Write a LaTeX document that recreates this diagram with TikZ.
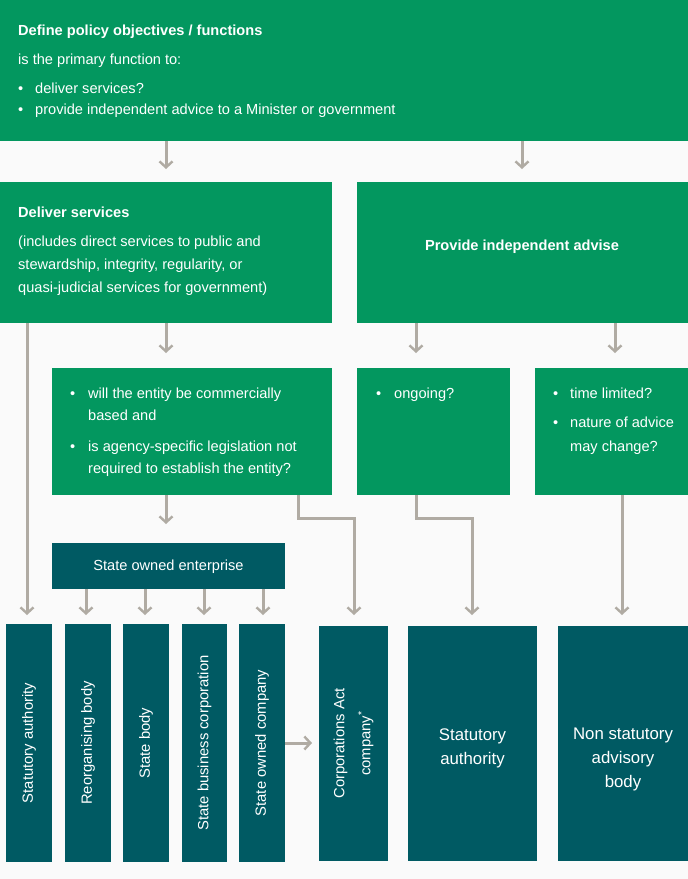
\documentclass[tikz,border=0pt]{standalone}
\usepackage{fontspec}
\setmainfont{Liberation Sans}
\usetikzlibrary{arrows.meta}
\definecolor{pgreen}{HTML}{03975F}
\definecolor{pteal}{HTML}{005A63}
\definecolor{pgray}{HTML}{B0ABA3}
\definecolor{pbg}{HTML}{FAFAFA}
\tikzset{
  gbox/.style={fill=pgreen, draw=none, anchor=north west, inner sep=0pt, outer sep=0pt},
  tbox/.style={fill=pteal, draw=none, anchor=north west, inner sep=0pt, outer sep=0pt},
  wtxt/.style={text=white, inner sep=0pt, anchor=base west, font=\fontsize{14.6}{17}\selectfont},
  wbold/.style={wtxt, font=\fontsize{14.6}{17}\selectfont\bfseries},
  vtxt/.style={text=white, inner sep=0pt, rotate=90, font=\fontsize{14.8}{17}\selectfont},
  btxt/.style={text=white, inner sep=0pt, align=center, font=\fontsize{16.8}{24}\selectfont},
  arr/.style={draw=pgray, line width=3pt, -{Straight Barb[length=6pt,width=13pt,line width=2.4pt]}},
  ln/.style={draw=pgray, line width=3pt}
}
\begin{document}
\begin{tikzpicture}[x=1pt,y=-1pt]
\fill[pbg] (0,0) rectangle (688,879);
\useasboundingbox (0,0) rectangle (688,879);

% boxes
\node[gbox, minimum width=688pt, minimum height=141pt] (top) at (0,0) {};
\node[gbox, minimum width=332pt, minimum height=141pt] (deliver) at (0,182) {};
\node[gbox, minimum width=331pt, minimum height=141pt] (advise) at (357,182) {};
\node[gbox, minimum width=280pt, minimum height=127pt] (comm) at (52,368) {};
\node[gbox, minimum width=153pt, minimum height=127pt] (ongoing) at (357,368) {};
\node[gbox, minimum width=153pt, minimum height=127pt] (timelim) at (535,368) {};
\node[tbox, minimum width=233pt, minimum height=46pt] (soe) at (52,543) {};

\node[tbox, minimum width=46pt, minimum height=238pt] (b1) at (6,624) {};
\node[tbox, minimum width=46pt, minimum height=238pt] (b2) at (65,624) {};
\node[tbox, minimum width=46pt, minimum height=238pt] (b3) at (123,624) {};
\node[tbox, minimum width=45pt, minimum height=238pt] (b4) at (182,624) {};
\node[tbox, minimum width=46pt, minimum height=238pt] (b5) at (239,624) {};
\node[tbox, minimum width=69pt, minimum height=235pt] (corp) at (319,626) {};
\node[tbox, minimum width=129pt, minimum height=235pt] (stat) at (408,626) {};
\node[tbox, minimum width=130pt, minimum height=235pt] (nonstat) at (558,626) {};

% texts: top
\node[wbold] (t1) at (18,35) {Define policy objectives / functions};
\node[wtxt] (t2) at (18,64) {is the primary function to:};
\node[wtxt] (t3) at (18,93) {•};
\node[wtxt] (t4) at (35,93) {deliver services?};
\node[wtxt] (t5) at (18,114) {•};
\node[wtxt] (t6) at (35,114) {provide independent advice to a Minister or government};

% deliver
\node[wbold] (d1) at (18,217) {Deliver services};
\node[wtxt] (d2) at (18,246) {(includes direct services to public and};
\node[wtxt] (d3) at (18,269) {stewardship, integrity, regularity, or};
\node[wtxt] (d4) at (18,292) {quasi-judicial services for government)};

% advise
\node[text=white, inner sep=0pt, font=\fontsize{14.6}{17}\selectfont\bfseries] (a1) at (522,247) {Provide independent advise};

% comm
\node[wtxt] (c0) at (70,398) {•};
\node[wtxt] (c1) at (88,398) {will the entity be commercially};
\node[wtxt] (c2) at (88,420) {based and};
\node[wtxt] (c3) at (70,451) {•};
\node[wtxt] (c4) at (88,451) {is agency-specific legislation not};
\node[wtxt] (c5) at (88,473) {required to establish the entity?};

% ongoing
\node[wtxt] (o0) at (376,398) {•};
\node[wtxt] (o1) at (394,398) {ongoing?};

% time limited
\node[wtxt] (m0) at (553,398) {•};
\node[wtxt] (m1) at (570,398) {time limited?};
\node[wtxt] (m2) at (553,427) {•};
\node[wtxt] (m3) at (570,427) {nature of advice};
\node[wtxt] (m4) at (570,451) {may change?};

% soe
\node[text=white, inner sep=0pt, font=\fontsize{14.6}{17}\selectfont] (s1) at ([yshift=-1pt]soe.center) {State owned enterprise};

% vertical texts
\node[vtxt] at (b1.center) {Statutory authority};
\node[vtxt] at (b2.center) {Reorganising body};
\node[vtxt] at (b3.center) {State body};
\node[vtxt] at (b4.center) {State business corporation};
\node[vtxt] at (b5.center) {State owned company};
\node[vtxt, align=center, font=\fontsize{14.8}{26}\selectfont] at (corp.center) {Corporations Act\\company\textsuperscript{*}};
\node[btxt] at ([yshift=-5pt]stat.center) {Statutory\\authority};
\node[btxt] at ([yshift=-16pt]nonstat.center) {Non statutory\\advisory\\body};

% connectors
\draw[arr] ([xshift=166pt]top.south west) -- ([xshift=166pt,yshift=13pt]deliver.north west);
\draw[arr] ([xshift=522pt]top.south west) -- ([xshift=165pt,yshift=13pt]advise.north west);

\draw[arr] ([xshift=27pt]deliver.south west) -- ([xshift=21pt,yshift=9pt]b1.north west);
\draw[arr] ([xshift=166pt]deliver.south west) -- ([xshift=114pt,yshift=15pt]comm.north west);
\draw[arr] ([xshift=59pt]advise.south west) -- ([xshift=59pt,yshift=15pt]ongoing.north west);
\draw[arr] ([xshift=258pt]advise.south west) -- ([xshift=80pt,yshift=15pt]timelim.north west);

\draw[arr] ([xshift=114pt]comm.south west) -- ([xshift=114pt,yshift=19pt]soe.north west);
\draw[arr] ([xshift=246pt]comm.south west) -- ++(0,23) -| ([xshift=35pt,yshift=11pt]corp.north west);
\draw[arr] ([xshift=59pt]ongoing.south west) -- ++(0,23) -| ([xshift=64pt,yshift=11pt]stat.north west);
\draw[arr] ([xshift=87pt]timelim.south west) -- ([xshift=64pt,yshift=11pt]nonstat.north west);

\draw[arr] ([xshift=34pt]soe.south west) -- ([xshift=21pt,yshift=9pt]b2.north west);
\draw[arr] ([xshift=93pt]soe.south west) -- ([xshift=22pt,yshift=9pt]b3.north west);
\draw[arr] ([xshift=152pt]soe.south west) -- ([xshift=22pt,yshift=9pt]b4.north west);
\draw[arr] ([xshift=211pt]soe.south west) -- ([xshift=24pt,yshift=9pt]b5.north west);

\draw[arr] (b5.east |- 0,743) -- ([xshift=-7pt]corp.west |- 0,743);
\end{tikzpicture}
\end{document}
